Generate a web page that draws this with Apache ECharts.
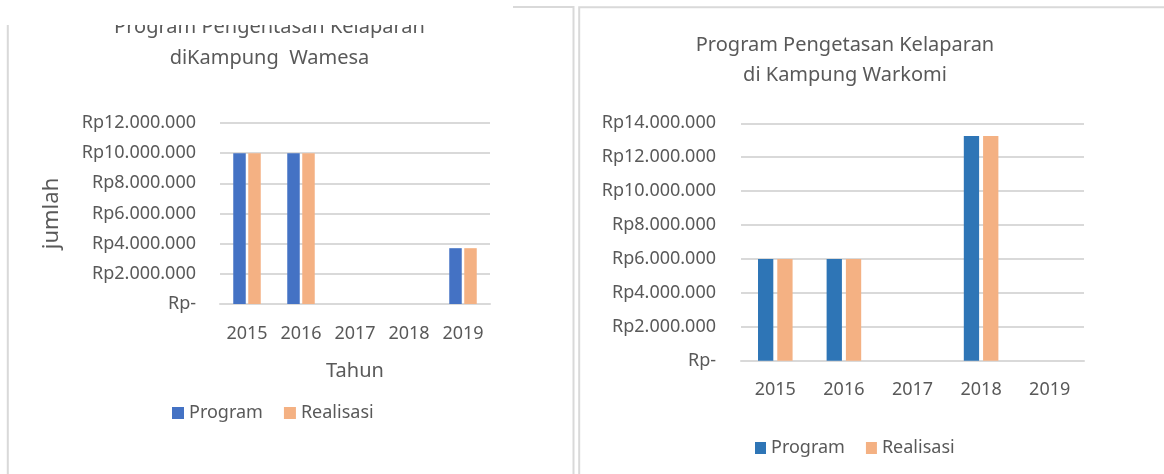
<!DOCTYPE html>
<html><head><meta charset="utf-8">
<script src="https://cdn.jsdelivr.net/npm/echarts@6/dist/echarts.min.js"></script>
<style>
html,body{margin:0;padding:0;background:#fff;width:1164px;height:474px;overflow:hidden}
#c1{position:absolute;left:0;top:0;width:578px;height:474px}
#c2{position:absolute;left:578px;top:0;width:586px;height:474px}
</style></head><body>
<div id="c1"></div><div id="c2"></div>
<script>
// ---- data ----
const years = ['2015', '2016', '2017', '2018', '2019'];
const seriesNames = ['Program', 'Realisasi'];
const wamesaProgram   = [10000000, 10000000, 0, 0, 3700000];
const wamesaRealisasi = [10000000, 10000000, 0, 0, 3700000];
const warkomiProgram   = [6000000, 6000000, 0, 13250000, 0];
const warkomiRealisasi = [6000000, 6000000, 0, 13250000, 0];
const wamesaTicks  = [0, 2000000, 4000000, 6000000, 8000000, 10000000, 12000000];
const warkomiTicks = [0, 2000000, 4000000, 6000000, 8000000, 10000000, 12000000, 14000000];
const wamesaTitle  = 'Program Pengentasan Kelaparan\ndiKampung  Wamesa';
const warkomiTitle = 'Program Pengetasan Kelaparan\ndi Kampung Warkomi';
const xName = 'Tahun';
const yName = 'jumlah';

// ---- helpers ----
const FONT = '"Noto Sans", "Open Sans", sans-serif';
const TXT = '#595959';
const GRID = '#d9d9d9';
function fmt(v) {
  return v === 0 ? 'Rp-' : 'Rp' + String(v).replace(/\B(?=(\d{3})+(?!\d))/g, '.');
}

function makeOption(c) {
  const xAxis = {
    type: 'category', data: years,
    axisLine: { show: true, lineStyle: { color: GRID, width: 2 } },
    axisTick: { show: false },
    splitLine: { show: false },
    axisLabel: { color: TXT, fontSize: 18, fontFamily: FONT, margin: c.xMargin }
  };
  if (c.xName) {
    Object.assign(xAxis, { name: c.xName, nameLocation: 'middle', nameGap: c.xNameGap,
      nameTextStyle: { color: TXT, fontSize: 20, fontFamily: FONT } });
  }
  const yAxis = {
    type: 'value', min: c.ticks[0], max: c.ticks[c.ticks.length - 1], interval: c.ticks[1] - c.ticks[0],
    axisLine: { show: false }, axisTick: { show: false },
    splitLine: { show: true, lineStyle: { color: GRID, width: 2 } },
    axisLabel: { color: TXT, fontSize: 18, fontFamily: FONT, margin: c.yMargin, formatter: fmt }
  };
  if (c.yName) {
    Object.assign(yAxis, { name: c.yName, nameLocation: 'middle', nameGap: c.yNameGap,
      nameTextStyle: { color: TXT, fontSize: 22, fontFamily: FONT } });
  }
  return {
    animation: false,
    backgroundColor: 'transparent',
    grid: Object.assign({ containLabel: false, outerBoundsMode: 'none' }, c.grid),
    legend: {
      data: seriesNames, left: c.legendLeft, top: c.legendTop, icon: 'rect',
      itemWidth: c.iconW, itemHeight: 12, itemGap: 21,
      textStyle: { color: TXT, fontSize: 18, fontFamily: FONT }
    },
    xAxis: xAxis,
    yAxis: yAxis,
    series: [
      { name: seriesNames[0], type: 'bar', data: c.s1, barWidth: c.barWidth, barGap: c.barGap,
        itemStyle: { color: c.colors[0] } },
      { name: seriesNames[1], type: 'bar', data: c.s2, barWidth: c.barWidth, barGap: c.barGap,
        itemStyle: { color: c.colors[1] } }
    ],
    graphic: c.graphic
  };
}

const left = echarts.init(document.getElementById('c1'), null, { renderer: 'canvas' });
left.setOption(makeOption({
  grid: { left: 220, top: 123, width: 270, height: 181 },
  ticks: wamesaTicks, s1: wamesaProgram, s2: wamesaRealisasi,
  colors: ['#4472C4', '#F4B183'], barWidth: 12.5, barGap: '20%',
  xMargin: 21, yMargin: 24, xName: xName, xNameGap: 57.5, yName: yName, yNameGap: 157,
  legendLeft: 167, legendTop: 399, iconW: 12,
  graphic: [
    { type: 'rect', z: 1, shape: { x: 7.8, y: 7, width: 565.7, height: 520 },
      style: { fill: 'none', stroke: GRID, lineWidth: 2 } },
    { type: 'text', z: 50, x: 269.5, y: 12,
      style: { text: wamesaTitle, fill: TXT, fontSize: 20, fontFamily: FONT, lineHeight: 31,
               align: 'center', verticalAlign: 'top' } },
    { type: 'rect', z: 100, shape: { x: 0, y: 0, width: 513, height: 25 }, style: { fill: '#ffffff' } }
  ]
}));

const right = echarts.init(document.getElementById('c2'), null, { renderer: 'canvas' });
right.setOption(makeOption({
  grid: { left: 163, top: 123.3, width: 343, height: 237.4 },
  ticks: warkomiTicks, s1: warkomiProgram, s2: warkomiRealisasi,
  colors: ['#2E75B6', '#F4B183'], barWidth: 15.3, barGap: '26%',
  xMargin: 20.5, yMargin: 25,
  legendLeft: 172, legendTop: 434, iconW: 11,
  graphic: [
    { type: 'rect', z: 1, shape: { x: 1.2, y: 7.3, width: 700, height: 520 },
      style: { fill: 'none', stroke: GRID, lineWidth: 2 } },
    { type: 'text', z: 50, x: 267, y: 30,
      style: { text: warkomiTitle, fill: TXT, fontSize: 20, fontFamily: FONT, lineHeight: 30,
               align: 'center', verticalAlign: 'top' } }
  ]
}));
</script>
</body></html>
